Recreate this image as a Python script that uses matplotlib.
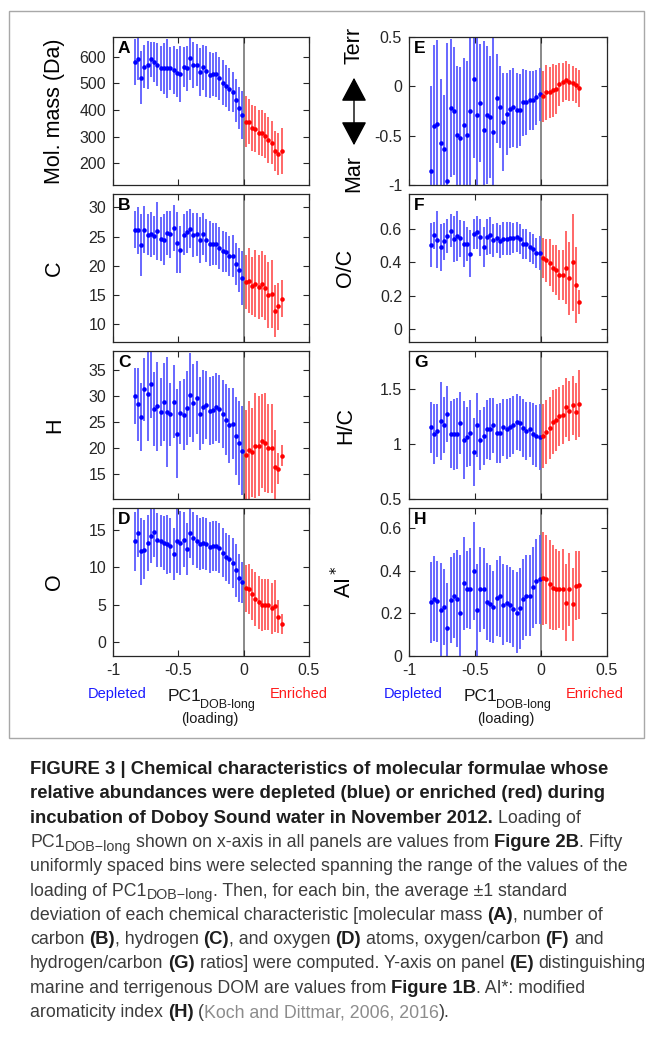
import numpy as np
import matplotlib
matplotlib.use('Agg')
import matplotlib.pyplot as plt
from matplotlib.patches import Rectangle, FancyArrowPatch
from matplotlib.ticker import FuncFormatter

plt.rcParams['font.family'] = ['Liberation Sans', 'DejaVu Sans']
plt.rcParams['axes.unicode_minus'] = False

# bin centres of PC1 loading (first 34 bins depleted, last 12 enriched)
pc1 = [-0.835, -0.81, -0.785, -0.76, -0.735, -0.71, -0.685, -0.66, -0.635, -0.61,
       -0.585, -0.56, -0.535, -0.51, -0.485, -0.46, -0.435, -0.41, -0.385, -0.36,
       -0.335, -0.31, -0.285, -0.26, -0.235, -0.21, -0.185, -0.16, -0.135, -0.11,
       -0.085, -0.06, -0.035, -0.01,
       0.015, 0.04, 0.065, 0.09, 0.115, 0.14, 0.165, 0.19, 0.215, 0.24, 0.265, 0.29]
n_depleted = 34

mass_mean = [581, 591, 521, 562, 569, 589, 581, 569, 556, 556, 556, 556, 548, 538, 533, 560,
             556, 593, 568, 568, 543, 559, 544, 530, 533, 533, 519, 502, 490, 477, 467, 436,
             407, 381,
             356, 356, 332, 328, 315, 314, 304, 288, 278, 246, 235, 247]
mass_sd = [86, 78, 98, 80, 90, 65, 75, 80, 85, 95, 110, 80, 90, 90, 105, 75,
           85, 80, 85, 80, 90, 85, 95, 85, 80, 85, 80, 85, 80, 80, 75, 80,
           80, 90,
           95, 85, 85, 85, 85, 85, 85, 85, 80, 75, 80, 85]

c_mean = [26.2, 26.1, 23.5, 26.2, 25.3, 25.4, 25.2, 26.0, 24.6, 24.5, 25.6, 25.4, 26.5, 24.0,
          22.8, 25.3, 25.8, 26.4, 25.3, 25.4, 24.4, 25.4, 24.4, 23.8, 23.8, 23.8, 23.0, 22.5,
          22.4, 21.7, 21.7, 20.3, 19.3, 18.0,
          17.2, 17.5, 16.6, 17.0, 16.4, 16.9, 16.3, 15.0, 15.2, 12.3, 13.1, 14.4]
c_sd = [3.2, 4.0, 5.3, 4.0, 3.5, 3.8, 3.4, 5.0, 3.7, 4.3, 3.8, 4.0, 3.9, 5.2,
        4.0, 3.5, 3.6, 3.3, 3.8, 3.7, 3.9, 3.6, 3.7, 3.8, 3.6, 3.6, 3.6, 3.5,
        3.4, 3.4, 3.6, 3.6, 3.7, 4.6,
        4.6, 5.6, 5.0, 5.8, 5.4, 5.6, 5.6, 5.6, 5.8, 4.4, 4.0, 3.2]

h_mean = [30.0, 28.4, 26.0, 31.3, 30.3, 32.3, 27.5, 28.0, 27.0, 28.8, 27.0, 26.5, 28.9, 22.8,
          26.8, 26.4, 27.7, 30.2, 28.7, 29.7, 26.6, 27.9, 28.2, 27.1, 27.3, 27.8, 27.5, 26.6,
          25.5, 24.4, 24.7, 22.3, 21.0, 19.5,
          18.8, 19.6, 19.2, 20.5, 20.4, 21.4, 21.1, 20.0, 20.0, 16.5, 16.1, 18.6]
h_sd = [5.3, 7.0, 6.5, 6.0, 9.0, 6.5, 7.0, 8.5, 6.5, 7.5, 10.5, 6.0, 7.0, 8.5,
        6.0, 6.8, 7.0, 8.0, 7.5, 7.0, 7.0, 7.0, 6.5, 6.5, 6.5, 6.5, 6.5, 6.5,
        6.8, 7.2, 6.8, 7.5, 8.0, 8.5,
        8.5, 9.5, 8.5, 10.0, 9.5, 9.0, 9.5, 8.5, 8.5, 7.0, 3.0, 2.0]

o_mean = [13.5, 14.6, 12.2, 12.4, 13.3, 14.2, 14.8, 13.7, 13.5, 13.3, 13.1, 12.9, 11.8, 13.6,
          13.3, 13.7, 12.5, 14.6, 13.9, 13.5, 13.2, 13.3, 13.1, 12.7, 12.9, 12.9, 12.6, 12.0,
          11.4, 11.1, 10.6, 9.6, 8.6, 8.0,
          7.2, 7.1, 6.4, 5.8, 5.3, 5.0, 5.0, 5.0, 4.5, 4.8, 3.4, 2.4]
o_sd = [4.0, 3.2, 4.5, 4.0, 3.8, 3.6, 3.4, 3.6, 3.5, 3.6, 4.0, 3.7, 3.5, 4.4,
        4.3, 3.7, 3.5, 3.3, 3.5, 3.6, 3.5, 3.5, 3.5, 3.4, 3.4, 3.4, 3.4, 3.3,
        3.2, 3.3, 3.3, 3.5, 3.2, 2.8,
        3.2, 3.4, 3.4, 3.6, 3.6, 3.5, 3.4, 3.4, 3.4, 3.5, 2.2, 1.3]

mt_mean = [-0.86, -0.40, -0.38, -0.57, -0.64, -0.96, -0.22, -0.25, -0.49, -0.52, -0.39, -0.49,
           -0.25, 0.07, -0.29, -0.17, -0.44, -0.29, -0.31, -0.46, -0.12, -0.21, -0.36, -0.28,
           -0.23, -0.21, -0.24, -0.24, -0.16, -0.16, -0.14, -0.14, -0.11, -0.08,
           -0.10, -0.06, -0.06, -0.04, -0.03, 0.02, 0.04, 0.06, 0.04, 0.03, 0.01, -0.02]
mt_sd = [0.86, 0.82, 0.85, 0.64, 0.55, 1.40, 0.70, 0.65, 0.70, 0.72, 0.68, 0.75,
         0.80, 0.80, 0.78, 0.60, 0.90, 0.70, 0.62, 0.95, 0.45, 0.42, 0.50, 0.42,
         0.40, 0.40, 0.38, 0.36, 0.34, 0.33, 0.30, 0.30, 0.28, 0.27,
         0.26, 0.28, 0.26, 0.27, 0.25, 0.22, 0.20, 0.20, 0.19, 0.18, 0.18, 0.19]

oc_mean = [0.504, 0.562, 0.536, 0.490, 0.526, 0.558, 0.590, 0.540, 0.558, 0.544, 0.510, 0.510,
           0.452, 0.570, 0.580, 0.550, 0.490, 0.552, 0.562, 0.532, 0.546, 0.526, 0.542, 0.542,
           0.544, 0.544, 0.550, 0.542, 0.512, 0.512, 0.492, 0.480, 0.456, 0.456,
           0.426, 0.412, 0.398, 0.364, 0.352, 0.324, 0.326, 0.368, 0.304, 0.400, 0.264, 0.162]
oc_sd = [0.13, 0.08, 0.17, 0.14, 0.11, 0.10, 0.10, 0.14, 0.15, 0.11, 0.14, 0.10,
         0.14, 0.09, 0.10, 0.11, 0.12, 0.11, 0.11, 0.10, 0.09, 0.10, 0.10, 0.10,
         0.10, 0.09, 0.09, 0.09, 0.09, 0.09, 0.09, 0.09, 0.09, 0.10,
         0.12, 0.13, 0.14, 0.14, 0.15, 0.15, 0.15, 0.22, 0.22, 0.29, 0.23, 0.07]

hc_mean = [1.150, 1.088, 1.120, 1.206, 1.170, 1.270, 1.085, 1.085, 1.090, 1.190, 1.033, 1.060,
           1.100, 0.927, 1.167, 1.036, 1.070, 1.130, 1.130, 1.167, 1.094, 1.100, 1.148, 1.133,
           1.148, 1.170, 1.197, 1.185, 1.142, 1.115, 1.130, 1.088, 1.070, 1.064,
           1.073, 1.103, 1.145, 1.194, 1.218, 1.248, 1.264, 1.330, 1.294, 1.348, 1.290, 1.364]
hc_sd = [0.23, 0.27, 0.24, 0.35, 0.25, 0.25, 0.30, 0.32, 0.32, 0.28, 0.35, 0.27,
         0.30, 0.31, 0.29, 0.27, 0.26, 0.27, 0.28, 0.25, 0.27, 0.27, 0.26, 0.27,
         0.27, 0.26, 0.25, 0.25, 0.26, 0.26, 0.25, 0.28, 0.28, 0.30,
         0.29, 0.29, 0.28, 0.29, 0.28, 0.27, 0.27, 0.27, 0.27, 0.27, 0.26, 0.30]

ai_mean = [0.252, 0.270, 0.258, 0.217, 0.230, 0.133, 0.263, 0.283, 0.270, 0.203, 0.341, 0.313,
           0.316, 0.397, 0.214, 0.314, 0.316, 0.255, 0.245, 0.231, 0.273, 0.280, 0.240, 0.248,
           0.240, 0.223, 0.203, 0.225, 0.267, 0.284, 0.284, 0.322, 0.350, 0.360,
           0.364, 0.360, 0.336, 0.320, 0.314, 0.313, 0.313, 0.250, 0.313, 0.242, 0.331, 0.333]
ai_sd = [0.19, 0.20, 0.19, 0.22, 0.18, 0.21, 0.20, 0.20, 0.23, 0.27, 0.22, 0.18,
         0.19, 0.23, 0.22, 0.20, 0.19, 0.18, 0.18, 0.17, 0.18, 0.19, 0.19, 0.18,
         0.18, 0.18, 0.19, 0.19, 0.19, 0.19, 0.19, 0.19, 0.20, 0.21,
         0.22, 0.21, 0.21, 0.20, 0.19, 0.18, 0.19, 0.18, 0.17, 0.17, 0.16, 0.16]

W, H = 652, 1042
fig = plt.figure(figsize=(W / 100, H / 100), dpi=100)
fig.patch.set_facecolor('white')


def fx(px):
    return px / W


def fy(py):
    return 1 - py / H


def gfmt(v, pos):
    return '%g' % v


# figure frame
fig.add_artist(Rectangle((fx(9), fy(738)), fx(635), 727 / H, transform=fig.transFigure,
                         fill=False, edgecolor='#a8a8a8', lw=1.0))

panels = [
    # letter, mean, sd, ylim, yticks, col, row
    ('A', mass_mean, mass_sd, (119, 673), [200, 300, 400, 500, 600], 0, 0),
    ('B', c_mean, c_sd, (7.0, 32.3), [10, 15, 20, 25, 30], 0, 1),
    ('C', h_mean, h_sd, (10.3, 38.6), [15, 20, 25, 30, 35], 0, 2),
    ('D', o_mean, o_sd, (-1.9, 18.0), [0, 5, 10, 15], 0, 3),
    ('E', mt_mean, mt_sd, (-1, 0.5), [-1, -0.5, 0, 0.5], 1, 0),
    ('F', oc_mean, oc_sd, (-0.078, 0.81), [0, 0.2, 0.4, 0.6], 1, 1),
    ('G', hc_mean, hc_sd, (0.5, 1.84), [0.5, 1, 1.5], 1, 2),
    ('H', ai_mean, ai_sd, (0, 0.695), [0, 0.2, 0.4, 0.6], 1, 3),
]
ylabels = {'A': 'Mol. mass (Da)', 'B': 'C', 'C': 'H', 'D': 'O',
           'F': 'O/C', 'G': 'H/C', 'H': 'AI$^*$'}
col_x = [(113, 309), (409, 607)]
row_y = [(37, 185), (194, 342), (351, 499), (508, 656)]

x = np.array(pc1)
for letter, mean, sd, ylim, yticks, col, row in panels:
    l, r = col_x[col]
    t, b = row_y[row]
    ax = fig.add_axes([fx(l), fy(b), (r - l) / W, (b - t) / H])
    m = np.array(mean)
    s = np.array(sd)
    k = n_depleted
    ax.axvline(0, color='#808080', lw=1.3, zorder=1)
    ax.errorbar(x[:k], m[:k], yerr=s[:k], fmt='none', ecolor='#5c5cff', elinewidth=1.3, zorder=2)
    ax.errorbar(x[k:], m[k:], yerr=s[k:], fmt='none', ecolor='#ff5c5c', elinewidth=1.3, zorder=2)
    ax.plot(x[:k], m[:k], 'o', color='#0000ff', ms=3.3, mec='none', zorder=3)
    ax.plot(x[k:], m[k:], 'o', color='#ff0000', ms=3.3, mec='none', zorder=3)
    ax.set_xlim(-1, 0.5)
    ax.set_ylim(*ylim)
    ax.set_xticks([-1, -0.5, 0, 0.5])
    ax.set_yticks(yticks)
    ax.xaxis.set_major_formatter(FuncFormatter(gfmt))
    ax.yaxis.set_major_formatter(FuncFormatter(gfmt))
    ax.tick_params(direction='in', top=True, right=True, length=4, width=0.8,
                   labelsize=11.5, colors='#262626', pad=5)
    if row != 3:
        ax.tick_params(labelbottom=False)
    for sp in ax.spines.values():
        sp.set_color('#262626')
        sp.set_linewidth(0.9)
    ax.text(0.025, 0.975, letter, transform=ax.transAxes, ha='left', va='top',
            fontsize=12.5, fontweight='bold', color='black')
    if letter in ylabels:
        ax.set_ylabel(ylabels[letter], fontsize=15.5, color='black')
        ax.yaxis.set_label_coords((65 - l) / (r - l) if col == 0 else (356 - l) / (r - l), 0.5)

# E axis label: marine <-> terrigenous
fig.text(fx(354), fy(45), 'Terr', rotation=90, ha='center', va='center', fontsize=15.5)
fig.text(fx(354), fy(174), 'Mar', rotation=90, ha='center', va='center', fontsize=15.5)
fig.add_artist(FancyArrowPatch(
    (fx(354), fy(148)), (fx(354), fy(75)), transform=fig.transFigure,
    arrowstyle='<|-|>,head_length=0.75,head_width=0.4', mutation_scale=20,
    color='black', lw=1.0))

# bottom annotations
for l, r in col_x:
    fig.text(fx(l + 4), fy(694), 'Depleted', color='#1a1aff', ha='center', va='center', fontsize=10.5)
    fig.text(fx(l + 186), fy(694), 'Enriched', color='#ff1a1a', ha='center', va='center', fontsize=10.5)
    fig.text(fx(l + 55), fy(701), 'PC1', ha='left', va='baseline', fontsize=12.5, color='#1a1a1a')
    fig.text(fx(l + 87), fy(708), 'DOB-long', ha='left', va='baseline', fontsize=9, color='#1a1a1a')
    fig.text(fx(l + 97), fy(719), '(loading)', ha='center', va='center', fontsize=10.5, color='#1a1a1a')

# caption
renderer = fig.canvas.get_renderer()
_space_cache = {}


def space_width(props):
    key = (props['fontsize'], props.get('fontweight', 'normal'))
    if key not in _space_cache:
        a = fig.text(0, 0, 'x x', **props)
        b = fig.text(0, 0, 'xx', **props)
        _space_cache[key] = a.get_window_extent(renderer).width - b.get_window_extent(renderer).width
        a.remove()
        b.remove()
    return _space_cache[key]


def caption_line(x0, base, pieces, fs_n, fs_b):
    xpos = x0
    for txt, kind in pieces:
        props = dict(fontsize=fs_n, color='#3c3c3c')
        dy = 0
        if kind == 'b':
            props.update(fontsize=fs_b, fontweight='bold', color='#1e1e1e')
        elif kind == 'g':
            props.update(color='#8c8c8c')
        elif kind == 's':
            props.update(fontsize=fs_n * 0.8)
            dy = 4
        core = txt.strip(' ')
        lead = len(txt) - len(txt.lstrip(' '))
        trail = len(txt) - len(txt.rstrip(' '))
        xpos += lead * space_width(props)
        if core:
            tt = fig.text(fx(xpos), fy(base + dy), core, ha='left', va='baseline', **props)
            xpos += tt.get_window_extent(renderer).width
        xpos += trail * space_width(props)


cap_fs_n = 12.8
cap_fs_b = 13.3
caption = [
    [('FIGURE 3 | Chemical characteristics of molecular formulae whose', 'b')],
    [('relative abundances were depleted (blue) or enriched (red) during', 'b')],
    [('incubation of Doboy Sound water in November 2012.', 'b'), (' Loading of', 'n')],
    [('PC1', 'n'), ('DOB\u2212long', 's'), (' shown on x-axis in all panels are values from ', 'n'),
     ('Figure 2B', 'b'), ('. Fifty', 'n')],
    [('uniformly spaced bins were selected spanning the range of the values of the', 'n')],
    [('loading of PC1', 'n'), ('DOB\u2212long', 's'), ('. Then, for each bin, the average \u00b11 standard', 'n')],
    [('deviation of each chemical characteristic [molecular mass ', 'n'), ('(A)', 'b'), (', number of', 'n')],
    [('carbon ', 'n'), ('(B)', 'b'), (', hydrogen ', 'n'), ('(C)', 'b'), (', and oxygen ', 'n'), ('(D)', 'b'),
     (' atoms, oxygen/carbon ', 'n'), ('(F)', 'b'), (' and', 'n')],
    [('hydrogen/carbon ', 'n'), ('(G)', 'b'), (' ratios] were computed. Y-axis on panel ', 'n'), ('(E)', 'b'),
     (' distinguishing', 'n')],
    [('marine and terrigenous DOM are values from ', 'n'), ('Figure 1B', 'b'), ('. AI*: modified', 'n')],
    [('aromaticity index ', 'n'), ('(H)', 'b'), (' (', 'n'), ('Koch and Dittmar, 2006, 2016', 'g'), (').', 'n')],
]
for i, pieces in enumerate(caption):
    caption_line(30, 774 + i * 24.3, pieces, cap_fs_n, cap_fs_b)

fig.savefig('out.png', dpi=100, facecolor='white')
